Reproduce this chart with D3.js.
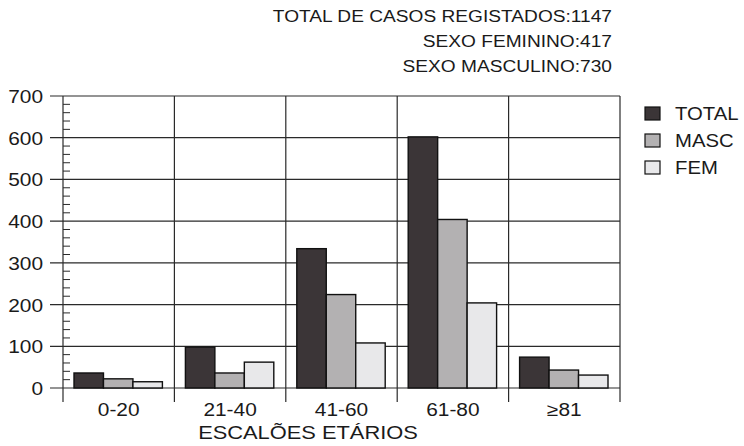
<!DOCTYPE html>
<html>
<head>
<meta charset="utf-8">
<script src="https://cdn.jsdelivr.net/npm/d3@7"></script>
<style>
  body { margin: 0; background: #fff; }
  svg text { font-family: "Liberation Sans", Arial, sans-serif; fill: #1a1a1a; }
</style>
</head>
<body>
<div class="chart"></div>
<script>
var ageGroups = ['0-20', '21-40', '41-60', '61-80', '\u226581'];
var totalCases = [36, 98, 334, 602, 74];
var mascCases = [22, 36, 224, 404, 43];
var femCases = [15, 62, 108, 204, 31];
var seriesNames = ['TOTAL', 'MASC', 'FEM'];
var seriesColors = ['#3b3537', '#b3b1b2', '#e8e8ea'];
var yTicks = [0, 100, 200, 300, 400, 500, 600, 700];
var headerLines = ['TOTAL DE CASOS REGISTADOS:1147', 'SEXO FEMININO:417', 'SEXO MASCULINO:730'];

var svgWidth = 744;
var svgHeight = 446;
var margin = { top: 96, left: 63 };
var width = 557;
var height = 292;

// the scanned type is a bit wider than Arial, stretch it around its anchor
function stretch(sel, s) {
  sel.each(function() {
    var t = d3.select(this);
    var ax = +(t.attr('x') || 0);
    t.attr('transform', 'translate(' + ax + ',0) scale(' + s + ',1) translate(' + (-ax) + ',0)');
  });
}

var svg = d3.select('.chart')
  .append('svg')
  .attr('width', svgWidth)
  .attr('height', svgHeight);

var chart = svg.append('g')
  .attr('transform', 'translate(' + margin.left + ',' + margin.top + ')');

var x = d3.scaleBand().domain(ageGroups).range([0, width]);
var xInner = d3.scaleBand().domain(seriesNames).range([11, x.bandwidth() - 12]);
var y = d3.scaleLinear().domain([0, 700]).range([height, 0]);

// horizontal grid lines (major ticks poke out left of axis)
chart.append('g')
  .selectAll('line')
  .data(yTicks)
  .enter()
  .append('line')
  .attr('x1', -13)
  .attr('x2', width)
  .attr('y1', function(d) { return y(d); })
  .attr('y2', function(d) { return y(d); })
  .attr('stroke', '#2a2a2a')
  .attr('stroke-width', 1.2);

// minor ticks every 20, pointing inward
chart.append('g')
  .selectAll('line')
  .data(d3.range(20, 700, 20).filter(function(d) { return d % 100 !== 0; }))
  .enter()
  .append('line')
  .attr('x1', 0)
  .attr('x2', 7)
  .attr('y1', function(d) { return y(d); })
  .attr('y2', function(d) { return y(d); })
  .attr('stroke', '#2a2a2a')
  .attr('stroke-width', 1);

// vertical separators incl. y axis and right border
chart.append('g')
  .selectAll('line')
  .data(ageGroups.concat(['end']))
  .enter()
  .append('line')
  .attr('x1', function(d, i) { return i * x.step(); })
  .attr('x2', function(d, i) { return i * x.step(); })
  .attr('y1', 0)
  .attr('y2', height + 14)
  .attr('stroke', '#2a2a2a')
  .attr('stroke-width', 1.2);

// y labels
var left = d3.axisLeft(y).tickValues(yTicks).tickSize(0).tickPadding(20);
var yAxis = chart.append('g').call(left);
yAxis.select('.domain').remove();
yAxis.selectAll('text')
  .style('font-size', '18px')
  .attr('dy', '0.36em')
  .call(stretch, 1.16);

// bars
var rows = ageGroups.map(function(g, i) {
  return [
    { group: g, key: 'TOTAL', value: totalCases[i] },
    { group: g, key: 'MASC', value: mascCases[i] },
    { group: g, key: 'FEM', value: femCases[i] }
  ];
});

chart.append('g')
  .selectAll('g')
  .data(rows)
  .enter()
  .append('g')
  .attr('transform', function(d) { return 'translate(' + x(d[0].group) + ',0)'; })
  .selectAll('rect')
  .data(function(d) { return d; })
  .enter()
  .append('rect')
  .attr('x', function(d) { return xInner(d.key); })
  .attr('width', xInner.bandwidth())
  .attr('y', function(d) { return y(d.value); })
  .attr('height', function(d) { return height - y(d.value); })
  .attr('fill', function(d, i) { return seriesColors[i]; })
  .attr('stroke', '#111')
  .attr('stroke-width', 1.4);

// x labels
var bottom = d3.axisBottom(x).tickSize(0).tickPadding(15);
var xAxis = chart.append('g')
  .attr('transform', 'translate(0,' + height + ')')
  .call(bottom);
xAxis.select('.domain').remove();
xAxis.selectAll('text')
  .style('font-size', '18px')
  .call(stretch, 1.16);

chart.append('text')
  .attr('x', 245)
  .attr('y', height + 51)
  .attr('text-anchor', 'middle')
  .style('font-size', '19px')
  .text('ESCAL\u00d5ES ET\u00c1RIOS')
  .call(stretch, 1.15);

// legend
var legend = svg.append('g').attr('transform', 'translate(645,107)');
var items = legend.selectAll('g')
  .data(seriesNames)
  .enter()
  .append('g')
  .attr('transform', function(d, i) { return 'translate(0,' + i * 27 + ')'; });
items.append('rect')
  .attr('width', 15)
  .attr('height', 13)
  .attr('fill', function(d, i) { return seriesColors[i]; })
  .attr('stroke', '#111')
  .attr('stroke-width', 1.2);
items.append('text')
  .attr('x', 30)
  .attr('y', 13)
  .style('font-size', '17.5px')
  .text(function(d) { return d; })
  .call(stretch, 1.16);

// header
svg.append('g')
  .selectAll('text')
  .data(headerLines)
  .enter()
  .append('text')
  .attr('x', 612)
  .attr('y', function(d, i) { return 22 + i * 25; })
  .attr('text-anchor', 'end')
  .style('font-size', '16.5px')
  .text(function(d) { return d; })
  .call(stretch, 1.16);
</script>
</body>
</html>
